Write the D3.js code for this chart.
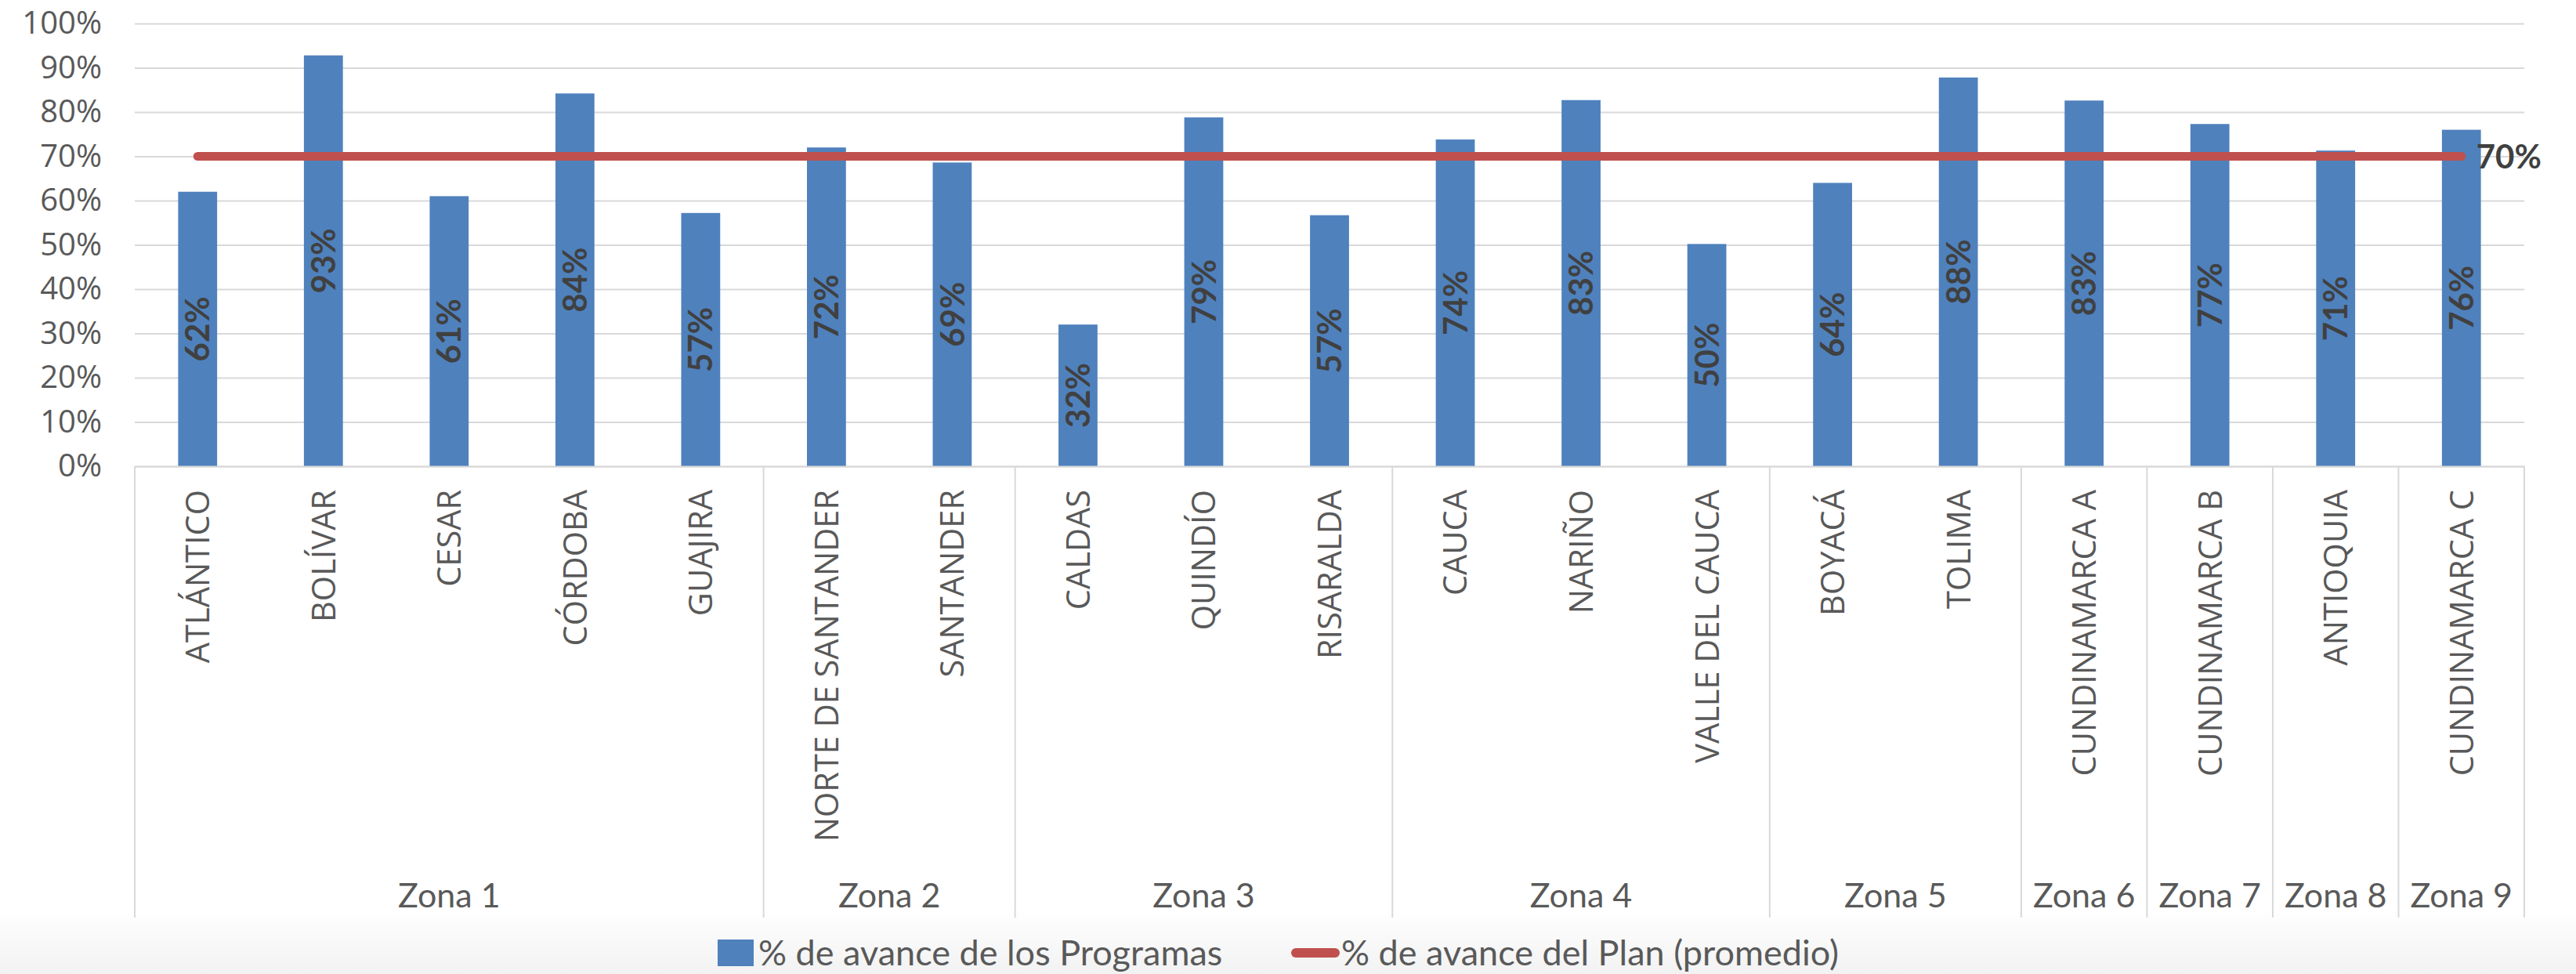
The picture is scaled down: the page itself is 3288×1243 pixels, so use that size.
<!DOCTYPE html>
<html>
<head>
<meta charset="utf-8">
<script src="https://cdn.jsdelivr.net/npm/d3@7"></script>
<style>
  body { margin: 0; background: #fff; }
  svg { display: block; }
  .tick text { fill: #595959; }
</style>
</head>
<body>
<div id="chart"></div>
<script>
// departments (x categories) and their zone
const departamentos = ["ATLÁNTICO", "BOLÍVAR", "CESAR", "CÓRDOBA", "GUAJIRA",
  "NORTE DE SANTANDER", "SANTANDER", "CALDAS", "QUINDÍO", "RISARALDA",
  "CAUCA", "NARIÑO", "VALLE DEL CAUCA", "BOYACÁ", "TOLIMA",
  "CUNDINAMARCA A", "CUNDINAMARCA B", "ANTIOQUIA", "CUNDINAMARCA C"];
const zonas = ["Zona 1", "Zona 1", "Zona 1", "Zona 1", "Zona 1",
  "Zona 2", "Zona 2", "Zona 3", "Zona 3", "Zona 3",
  "Zona 4", "Zona 4", "Zona 4", "Zona 5", "Zona 5",
  "Zona 6", "Zona 7", "Zona 8", "Zona 9"];
const avanceProgramas = [0.62, 0.928, 0.61, 0.842, 0.572, 0.72, 0.686, 0.32, 0.788, 0.567,
  0.738, 0.827, 0.502, 0.64, 0.878, 0.826, 0.773, 0.713, 0.76];
const avancePlan = 0.70;
const yTicks = [0, 0.1, 0.2, 0.3, 0.4, 0.5, 0.6, 0.7, 0.8, 0.9, 1];
const legendLabels = ["% de avance de los Programas", "% de avance del Plan (promedio)"];

const W = 3288, H = 1243;
const margin = {top: 30, left: 172, right: 66, bottom: 648};
const width = W - margin.left - margin.right,
      height = H - margin.top - margin.bottom;
const blue = "#4f81bd", red = "#c0504d", grid = "#d9d9d9";

let svg = d3.select("#chart").append("svg")
  .attr("width", W).attr("height", H);

// soft grey fade at the bottom of the frame
let grad = svg.append("defs").append("linearGradient")
  .attr("id", "fade").attr("x1", 0).attr("y1", 0).attr("x2", 0).attr("y2", 1);
grad.append("stop").attr("offset", "0%").attr("stop-color", "#ffffff");
grad.append("stop").attr("offset", "100%").attr("stop-color", "#f2f2f2");
svg.append("rect").attr("x", 0).attr("y", 1160).attr("width", W).attr("height", H - 1160)
  .attr("fill", "url(#fade)");

let g = svg.append("g")
  .attr("transform", "translate(" + margin.left + "," + margin.top + ")");

let xScale = d3.scaleBand()
  .domain(departamentos)
  .range([0, width])
  .paddingInner(0.69)
  .paddingOuter(0.345);

let yScale = d3.scaleLinear()
  .domain([0, 1])
  .range([height, 0]);

// y axis + gridlines
let yAxis = g.append("g")
  .call(d3.axisLeft(yScale).tickValues(yTicks).tickFormat(d3.format(".0%"))
    .tickSize(-width).tickPadding(42));
yAxis.select(".domain").remove();
yAxis.selectAll(".tick line").attr("stroke", grid).attr("stroke-width", 2);
yAxis.selectAll(".tick text")
  .style("font-family", "'Open Sans', sans-serif")
  .style("font-size", "40px");

// bars
g.selectAll(".bar")
  .data(avanceProgramas)
  .enter().append("rect")
  .attr("class", "bar")
  .attr("x", (d, i) => xScale(departamentos[i]))
  .attr("y", d => yScale(d))
  .attr("width", xScale.bandwidth())
  .attr("height", d => height - yScale(d))
  .attr("fill", blue);

// data labels inside bars
g.selectAll(".barLabel")
  .data(avanceProgramas)
  .enter().append("text")
  .attr("class", "barLabel")
  .attr("transform", (d, i) => "translate(" + (xScale(departamentos[i]) + xScale.bandwidth() / 2) + "," + yScale(d / 2) + ") rotate(-90)")
  .attr("text-anchor", "middle")
  .attr("dy", "0.36em")
  .style("font-family", "Lato, sans-serif")
  .style("font-weight", "bold")
  .style("font-size", "42px")
  .attr("fill", "#404040")
  .text(d => d3.format(".0%")(d));

// plan average line, first to last category centre
let cx = d => xScale(d) + xScale.bandwidth() / 2;
g.append("line")
  .attr("x1", cx(departamentos[0]))
  .attr("x2", cx(departamentos[departamentos.length - 1]))
  .attr("y1", yScale(avancePlan))
  .attr("y2", yScale(avancePlan))
  .attr("stroke", red)
  .attr("stroke-width", 11)
  .attr("stroke-linecap", "round");

g.append("text")
  .attr("x", cx(departamentos[departamentos.length - 1]) + 19)
  .attr("y", yScale(avancePlan))
  .attr("dy", "0.36em")
  .style("font-family", "Lato, sans-serif")
  .style("font-weight", "bold")
  .style("font-size", "42px")
  .attr("fill", "#404040")
  .text(d3.format(".0%")(avancePlan));

// x axis: department names
let xAxis = g.append("g")
  .attr("transform", "translate(0," + height + ")")
  .call(d3.axisBottom(xScale).tickSize(0).tickSizeOuter(0));
xAxis.select(".domain").attr("stroke", grid).attr("stroke-width", 2);
xAxis.selectAll(".tick text")
  .attr("transform", "rotate(-90)")
  .attr("x", -30)
  .attr("y", 0)
  .attr("dy", "0.36em")
  .attr("text-anchor", "end")
  .style("font-family", "'Open Sans', sans-serif")
  .style("font-size", "41.5px");

// zone groups
let groups = [];
zonas.forEach((z, i) => {
  let last = groups[groups.length - 1];
  if (last && last.name === z) last.end = i;
  else groups.push({name: z, start: i, end: i});
});
let step = xScale.step();
let boxBottom = 1171;

let zoneG = g.append("g").attr("transform", "translate(0," + height + ")");
let bounds = [0].concat(groups.map(d => (d.end + 1) * step));
zoneG.selectAll(".sep")
  .data(bounds)
  .enter().append("line")
  .attr("class", "sep")
  .attr("x1", d => d).attr("x2", d => d)
  .attr("y1", 0).attr("y2", boxBottom - margin.top - height)
  .attr("stroke", grid).attr("stroke-width", 2);

zoneG.selectAll(".zona")
  .data(groups)
  .enter().append("text")
  .attr("class", "zona")
  .attr("x", d => (d.start + d.end + 1) / 2 * step)
  .attr("y", 1158 - margin.top - height)
  .attr("text-anchor", "middle")
  .style("font-family", "Lato, sans-serif")
  .style("font-size", "43px")
  .attr("fill", "#595959")
  .text(d => d.name);

// legend
let legend = svg.append("g").attr("transform", "translate(0,1216)");
legend.append("rect")
  .attr("x", 916).attr("y", -17).attr("width", 46).attr("height", 34)
  .attr("fill", blue);
legend.append("text")
  .attr("x", 968).attr("dy", "0.36em")
  .style("font-family", "Lato, sans-serif").style("font-size", "45px")
  .attr("fill", "#595959")
  .text(legendLabels[0]);
legend.append("line")
  .attr("x1", 1654).attr("x2", 1704)
  .attr("stroke", red).attr("stroke-width", 12).attr("stroke-linecap", "round");
legend.append("text")
  .attr("x", 1712).attr("dy", "0.36em")
  .style("font-family", "Lato, sans-serif").style("font-size", "45px")
  .attr("fill", "#595959")
  .text(legendLabels[1]);
</script>
</body>
</html>
